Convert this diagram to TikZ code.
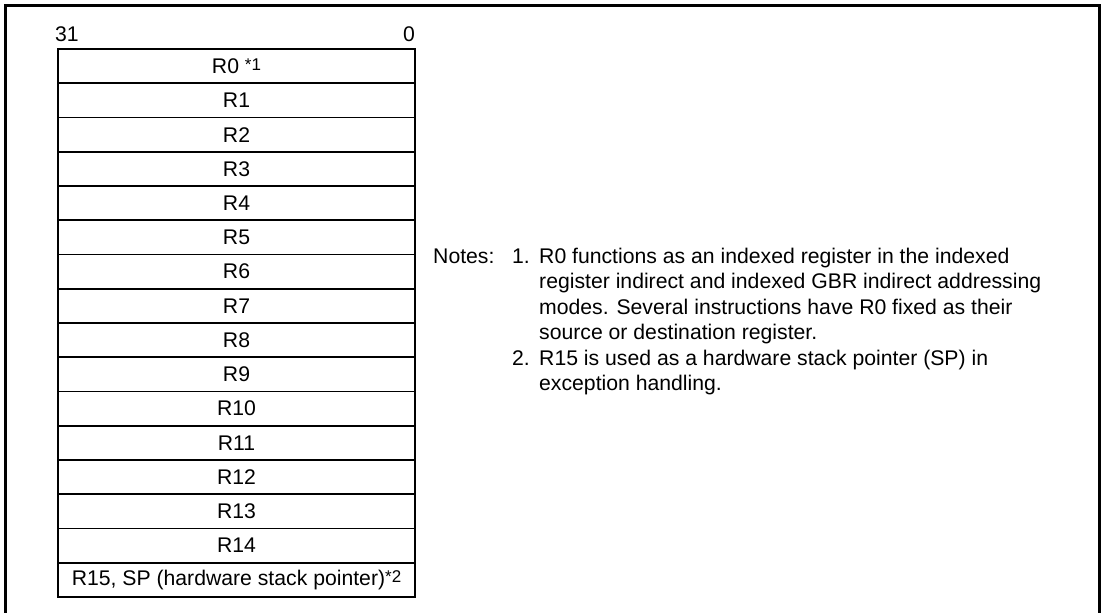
\documentclass[tikz,border=0pt]{standalone}
\usepackage{fontspec}
\setmainfont{Liberation Sans}
\usepackage{tikz}
\newcommand{\fnmark}[1]{\raisebox{0.12em}{\fontsize{17}{17}\selectfont *#1}}

\begin{document}
\begin{tikzpicture}[x=1pt,y=-1pt]
        \tikzstyle{every node}=[inner sep=0pt,text=black,font=\fontsize{21.2}{25.8}\selectfont]
        \tikzstyle{reg}=[rectangle,draw=black,line width=1.7pt,minimum width=357pt,minimum height=34.25pt]
        \tikzstyle{note}=[anchor=base west]

        \useasboundingbox (0,0) rectangle (1103,613);
        \draw[line width=3pt] (5,613) -- (5,5) -- (1099,5) -- (1099,613);

        \node[anchor=base west] (b31) at (55,41) {31};
        \node[anchor=base east] (b0) at (415,41) {0};

        \node[reg] (r0) at (236.5,66.125) {R0 \fnmark{1}};
        \node[reg] (r1) at (236.5,100.375) {R1};
        \node[reg] (r2) at (236.5,134.625) {R2};
        \node[reg] (r3) at (236.5,168.875) {R3};
        \node[reg] (r4) at (236.5,203.125) {R4};
        \node[reg] (r5) at (236.5,237.375) {R5};
        \node[reg] (r6) at (236.5,271.625) {R6};
        \node[reg] (r7) at (236.5,305.875) {R7};
        \node[reg] (r8) at (236.5,340.125) {R8};
        \node[reg] (r9) at (236.5,374.375) {R9};
        \node[reg] (r10) at (236.5,408.625) {R10};
        \node[reg] (r11) at (236.5,442.875) {R11};
        \node[reg] (r12) at (236.5,477.125) {R12};
        \node[reg] (r13) at (236.5,511.375) {R13};
        \node[reg] (r14) at (236.5,545.625) {R14};
        \node[reg] (r15) at (236.5,579.875) {R15, SP (hardware stack pointer)\fnmark{2}};

        \node[note] (notes) at (433,263) {Notes:};
        \node[note] (n1) at (512,263) {1.};
        \node[note] (n1a) at (539,263) {R0 functions as an indexed register in the indexed};
        \node[note] (n1b) at (539,288.5) {register indirect and indexed GBR indirect addressing};
        \node[note] (n1c) at (539,314) {modes. Several instructions have R0 fixed as their};
        \node[note] (n1d) at (539,339.5) {source or destination register.};
        \node[note] (n2) at (512,365) {2.};
        \node[note] (n2a) at (539,365) {R15 is used as a hardware stack pointer (SP) in};
        \node[note] (n2b) at (539,390.5) {exception handling.};
    \end{tikzpicture}
\end{document}
